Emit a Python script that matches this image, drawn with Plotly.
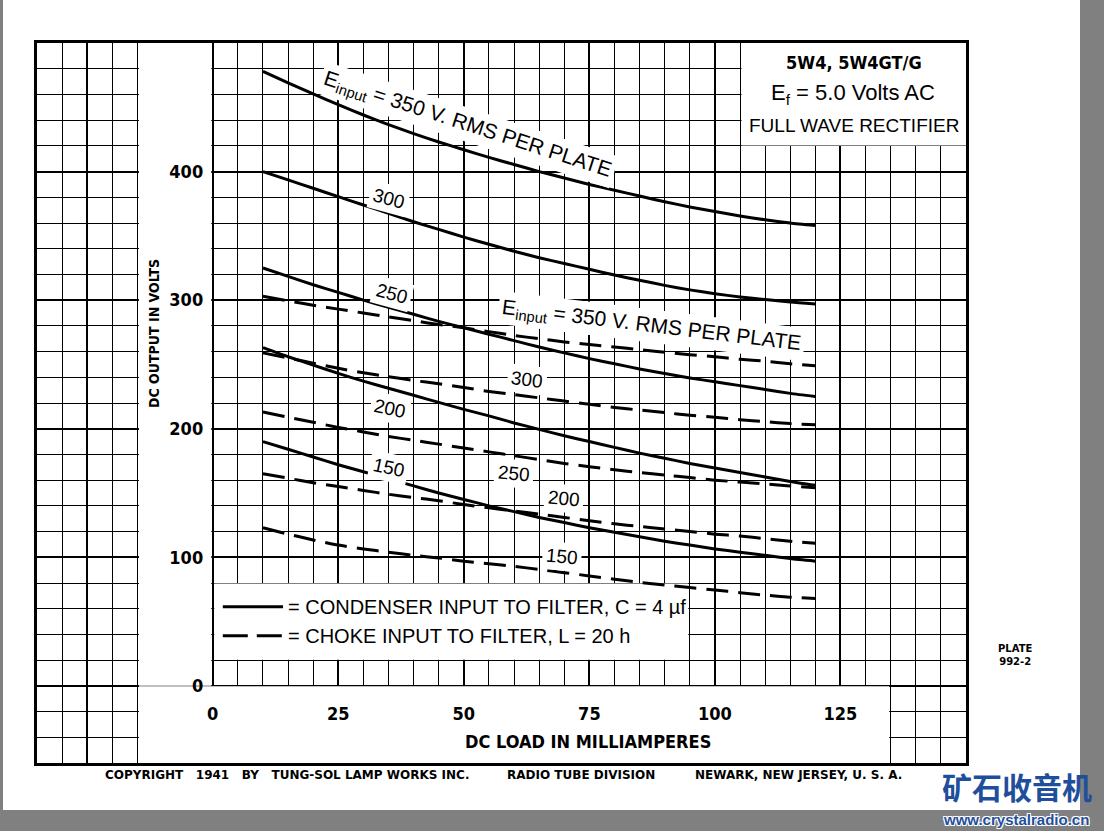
import plotly.graph_objects as go

# ---------------- data ----------------
load_ma = [10, 15, 20, 25, 30, 35, 40, 45, 50, 55, 60, 65, 70, 75, 80, 85, 90, 95, 100, 105, 110, 115, 120]

# condenser input to filter (solid)
cond_350 = [478, 469, 460.5, 452, 444, 436.5, 429.5, 423, 417, 411, 405.5, 400, 395, 390, 385.5, 381, 376.5, 372.5, 369, 365.5, 362.5, 360, 358]
cond_300 = [400, 393.5, 387, 380.5, 374, 367.5, 361, 355, 349, 343.5, 338, 333, 328.5, 324, 319.5, 315.5, 311.5, 308, 305, 302.5, 300.5, 298.5, 297]
cond_250 = [325, 318.5, 312, 306, 300, 294.5, 289, 283.5, 278.5, 273.5, 268.5, 263.5, 259, 254.5, 250.5, 246.5, 243, 239.5, 236.5, 233.5, 230.5, 227.5, 225]
cond_200 = [263, 256, 249.5, 243, 237, 231.5, 226, 220.5, 215, 210, 204.5, 199.5, 194.5, 190, 185.5, 181, 177, 173, 169.5, 166, 162.5, 159, 156]
cond_150 = [190, 184, 178, 172, 166.5, 161, 155.5, 150, 145, 140, 135.5, 131, 127, 123, 119.5, 116, 112.5, 109.5, 106.5, 104, 101.5, 99, 97]

# choke input to filter (dashed)
choke_350 = [303, 299.5, 296, 293, 290, 287, 284, 281, 278.5, 275.5, 272.5, 270, 267.5, 265.5, 263.5, 261.5, 259.5, 257.5, 256, 254, 252.5, 250.5, 249]
choke_300 = [259, 255, 251, 247, 243.5, 240.5, 237.5, 235, 232, 229, 226.5, 224, 221.5, 219, 216.5, 214.5, 212.5, 210.5, 209, 207, 205.5, 204, 203]
choke_250 = [213, 209, 205, 201, 197.5, 194, 191, 188, 185, 182, 179, 176, 173, 170.5, 168, 166, 164, 162, 160, 158.5, 157, 155.5, 154]
choke_200 = [165, 161.5, 158, 155, 152, 149, 146.5, 144, 141, 138.5, 136, 133.5, 131, 128.5, 126, 124, 122, 120, 118, 116.5, 114.5, 112.5, 111]
choke_150 = [123, 118, 113.5, 109.5, 106.5, 104, 101.5, 99.5, 97, 95, 93, 90.5, 88, 85.5, 83, 80.5, 78.5, 76.5, 74.5, 72.5, 70.5, 69, 68]

x_ticks = [0, 25, 50, 75, 100, 125]
y_ticks = [0, 100, 200, 300, 400]

# curve labels: (text, mA, volts, angle)
curve_labels = [
    ("E<sub>input</sub> = 350 V. RMS PER PLATE", 50.8, 436, 18),
    ("300", 35.0, 379, 15),
    ("250", 35.6, 305, 15),
    ("E<sub>input</sub> = 350 V. RMS PER PLATE", 87.3, 280, 7),
    ("300", 62.5, 238, 7),
    ("200", 35.2, 216, 12),
    ("150", 35.0, 170, 12),
    ("250", 60.0, 165, 5),
    ("200", 70.0, 145.5, 5),
    ("150", 69.5, 101, 5),
]

X_RANGE = [-35, 150]
Y_RANGE = [-60, 500]

NARROW = "Liberation Sans Narrow, DejaVu Sans Condensed, Liberation Sans, Arial, sans-serif"
PLAIN = "Liberation Sans, Arial, sans-serif"
WIDE = "DejaVu Sans, Verdana, sans-serif"

fig = go.Figure()

solid_sets = [cond_350, cond_300, cond_250, cond_200, cond_150]
dash_sets = [choke_350, choke_300, choke_250, choke_200, choke_150]
for ys in solid_sets:
    fig.add_trace(go.Scatter(x=load_ma, y=ys, mode="lines",
                             line=dict(color="black", width=3, shape="spline", smoothing=0.6),
                             showlegend=False, hoverinfo="skip"))
for ys in dash_sets:
    fig.add_trace(go.Scatter(x=load_ma, y=ys, mode="lines",
                             line=dict(color="black", width=3, shape="spline", smoothing=0.6,
                                       dash="22px,10px"),
                             showlegend=False, hoverinfo="skip"))

# dummy traces so the label axes are drawn
fig.add_trace(go.Scatter(x=[None], y=[None], xaxis="x2", yaxis="y", showlegend=False, hoverinfo="skip"))
fig.add_trace(go.Scatter(x=[None], y=[None], xaxis="x", yaxis="y2", showlegend=False, hoverinfo="skip"))

tickfont = dict(family=NARROW, size=18, color="black", weight="bold")

fig.update_layout(
    width=1104, height=831,
    margin=dict(l=37, r=138, t=43, b=68),
    paper_bgcolor="#808080",
    plot_bgcolor="white",
    xaxis=dict(range=X_RANGE, tick0=0, dtick=25, showgrid=True, gridcolor="black", gridwidth=2.2,
               minor=dict(tick0=0, dtick=5, showgrid=True, gridcolor="black", gridwidth=1.4),
               showticklabels=False, ticks="", zeroline=False,
               showline=True, mirror=True, linecolor="black", linewidth=2.5, fixedrange=True),
    yaxis=dict(range=Y_RANGE, tick0=0, dtick=100, showgrid=True, gridcolor="black", gridwidth=2.2,
               minor=dict(tick0=0, dtick=20, showgrid=True, gridcolor="black", gridwidth=1.4),
               showticklabels=False, ticks="", zeroline=False,
               showline=True, mirror=True, linecolor="black", linewidth=2.5, fixedrange=True),
    xaxis2=dict(overlaying="x", anchor="free",
                position=(0 - Y_RANGE[0]) / (Y_RANGE[1] - Y_RANGE[0]),
                range=X_RANGE, tickvals=x_ticks, ticktext=[str(v) for v in x_ticks],
                showgrid=False, zeroline=False, showline=False,
                ticks="outside", ticklen=12, tickcolor="rgba(0,0,0,0)",
                tickfont=tickfont, side="bottom", fixedrange=True),
    yaxis2=dict(overlaying="y", anchor="free",
                position=(0 - X_RANGE[0]) / (X_RANGE[1] - X_RANGE[0]),
                range=Y_RANGE, tickvals=y_ticks, ticktext=[str(v) for v in y_ticks],
                showgrid=False, zeroline=False, showline=False,
                ticks="outside", ticklen=6, tickcolor="rgba(0,0,0,0)",
                tickfont=tickfont, side="left", fixedrange=True),
)

shapes = []
# white page on grey scan border
shapes.append(dict(type="rect", xref="paper", yref="paper", layer="below",
                   x0=(3 - 37) / 929, x1=(1080 - 37) / 929, y0=(763 - 810) / 720, y1=763 / 720,
                   fillcolor="white", line=dict(width=0)))
# white areas hiding the grid (axis labels column / band, title box, legend box)
e = 0.3
white_boxes = [
    (-15 + e, 0 - e, 0, 500),
    (-15 + e, 135 - e, -60, 0 - 1.2 * e),
    (105 + e, 150, 420 + 1.2 * e, 500),
    (0 + e, 95 - e, 20 + 1.2 * e, 80 - 1.2 * e),
]
for x0, x1, y0, y1 in white_boxes:
    shapes.append(dict(type="rect", xref="x", yref="y", layer="between",
                       x0=x0, x1=x1, y0=y0, y1=y1, fillcolor="white", line=dict(width=0)))
# legend samples
shapes.append(dict(type="line", xref="x", yref="y", x0=2.0, x1=14.0, y0=61.5, y1=61.5,
                   line=dict(color="black", width=3)))
shapes.append(dict(type="line", xref="x", yref="y", x0=2.0, x1=14.0, y0=39.0, y1=39.0,
                   line=dict(color="black", width=3, dash="25px,9px")))
fig.update_layout(shapes=shapes)

ann = []
for text, xm, yv, ang in curve_labels:
    ann.append(dict(x=xm, y=yv, xref="x", yref="y", text=text, showarrow=False,
                    textangle=ang, bgcolor="white", borderpad=3,
                    font=dict(family=PLAIN, size=21 if "PLATE" in text else 19, color="black")))

# title box
ann.append(dict(x=127.7, y=484.5, xref="x", yref="y", text="5W4, 5W4GT/G", showarrow=False,
                font=dict(family=NARROW, size=18, color="black", weight="bold")))
ann.append(dict(x=127.5, y=460, xref="x", yref="y", text="E<sub>f</sub> = 5.0 Volts AC", showarrow=False,
                font=dict(family=PLAIN, size=22, color="black")))
ann.append(dict(x=127.7, y=435.5, xref="x", yref="y", text="FULL WAVE RECTIFIER", showarrow=False,
                font=dict(family=PLAIN, size=19, color="black")))

# legend texts
ann.append(dict(x=14.6, y=61.5, xref="x", yref="y", xanchor="left", showarrow=False,
                text="= CONDENSER INPUT TO FILTER, C = 4 µf",
                font=dict(family=PLAIN, size=20, color="black")))
ann.append(dict(x=14.6, y=39.0, xref="x", yref="y", xanchor="left", showarrow=False,
                text="= CHOKE INPUT TO FILTER, L = 20 h",
                font=dict(family=PLAIN, size=20, color="black")))

# axis titles
ann.append(dict(x=74.7, y=-43.5, xref="x", yref="y", text="DC LOAD IN MILLIAMPERES", showarrow=False,
                font=dict(family=NARROW, size=18, color="black", weight="bold")))
ann.append(dict(x=-11.8, y=274, xref="x", yref="y", text="DC OUTPUT IN VOLTS", showarrow=False,
                textangle=-90, font=dict(family=NARROW, size=14, color="black", weight="bold")))

# plate number and copyright line
ann.append(dict(x=(1015 - 37) / 929, y=(763 - 655) / 720, xref="paper", yref="paper",
                xanchor="center", yanchor="middle",
                text="PLATE<br>992-2", showarrow=False, align="center",
                font=dict(family=WIDE, size=10, color="black", weight="bold")))
foot = [("COPYRIGHT\u00a0\u00a0 1941\u00a0\u00a0 BY\u00a0\u00a0 TUNG-SOL LAMP WORKS INC.", 103),
        ("RADIO TUBE DIVISION", 505),
        ("NEWARK, NEW JERSEY, U. S. A.", 693)]
for t, px in foot:
    ann.append(dict(x=(px - 37) / 929, y=(763 - 775) / 720, xref="paper", yref="paper",
                    xanchor="left", yanchor="middle", text=t, showarrow=False,
                    font=dict(family=WIDE, size=12, color="black", weight="bold")))

# watermark of the scan source
ann.append(dict(x=(1017 - 37) / 929, y=(763 - 786) / 720, xref="paper", yref="paper",
                xanchor="center", yanchor="middle",
                text="矿石收音机", showarrow=False,
                font=dict(family="Noto Sans CJK SC", size=30, color="#1f4f9c", weight="bold")))
ann.append(dict(x=(1016 - 37) / 929, y=(763 - 819) / 720, xref="paper", yref="paper",
                xanchor="center", yanchor="middle",
                text="www.crystalradio.cn", showarrow=False,
                font=dict(family="Liberation Sans, Arial", size=15, color="#1f4f9c", weight="bold",
                          shadow="-1px -1px 0 #fff, 1px -1px 0 #fff, -1px 1px 0 #fff, 1px 1px 0 #fff")))

fig.update_layout(annotations=ann)

fig.write_html("out.html", config={"displayModeBar": False},
               post_script="document.body.style.margin='0';document.body.style.overflow='hidden';")
